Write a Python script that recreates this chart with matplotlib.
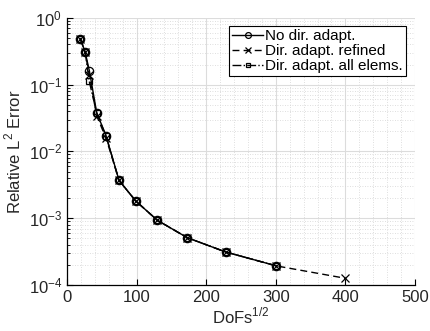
import matplotlib
matplotlib.use("Agg")
import matplotlib.pyplot as plt
from matplotlib.ticker import LogLocator, NullFormatter, FixedLocator

plt.rcParams['font.family'] = ['Liberation Sans', 'DejaVu Sans']
plt.rcParams['mathtext.fontset'] = 'custom'
plt.rcParams['mathtext.rm'] = 'Liberation Sans'

# sqrt(DoFs) and relative L2 errors for the three strategies
dofs_no = [19, 26, 32, 42.6, 56, 74.7, 98.7, 129.8, 172.9, 228, 301]
err_no = [0.49, 0.306, 0.162, 0.038, 0.0172, 0.00368, 0.00181, 0.00093, 0.00051, 0.000312, 0.000193]

dofs_ref = [19, 26, 32, 42.6, 56, 74.7, 98.7, 129.8, 172.9, 228, 301, 400]
err_ref = [0.49, 0.306, 0.14, 0.034, 0.0158, 0.00368, 0.00181, 0.00093, 0.00051, 0.000312, 0.000193, 0.000126]

dofs_all = [19, 26, 31.6, 42.6, 56, 74.7, 98.7, 129.8, 172.9, 228, 301]
err_all = [0.49, 0.306, 0.115, 0.0375, 0.017, 0.00368, 0.00181, 0.00093, 0.00051, 0.000312, 0.000193]

fig = plt.figure(figsize=(4.30, 3.31), dpi=100)
ax = fig.add_axes([0.156, 0.139, 0.809, 0.807])

ax.semilogy(dofs_ref, err_ref, color='black', linestyle='--', marker='x',
            markersize=6, markeredgewidth=0.9, linewidth=1.0, dashes=(5, 3),
            label='Dir. adapt. refined', zorder=3)
ax.semilogy(dofs_all, err_all, color='black', linestyle='-.', marker='s',
            markersize=5, markerfacecolor='none', markeredgewidth=0.9,
            linewidth=1.0, label='Dir. adapt. all elems.', zorder=4)
ax.semilogy(dofs_no, err_no, color='black', linestyle='-', marker='o',
            markersize=6, markerfacecolor='none', markeredgewidth=0.9,
            linewidth=1.0, label='No dir. adapt.', zorder=5)

ax.set_xlim(0, 500)
ax.set_ylim(1e-4, 1)
ax.xaxis.set_major_locator(FixedLocator([0, 100, 200, 300, 400, 500]))
ax.yaxis.set_major_locator(LogLocator(base=10, numticks=10))
ax.yaxis.set_minor_locator(LogLocator(base=10, subs=range(2, 10), numticks=20))
ax.yaxis.set_minor_formatter(NullFormatter())
ax.xaxis.set_minor_locator(FixedLocator(range(0, 501, 20)))

ax.grid(True, which='major', color='#dcdcdc', linewidth=0.8, linestyle='-')
ax.grid(True, which='minor', color='#d4d4d4', linewidth=0.6, linestyle=(0, (1, 2)))
ax.set_axisbelow(True)

for s in ['top', 'right']:
    ax.spines[s].set_visible(False)
for s in ['left', 'bottom']:
    ax.spines[s].set_linewidth(0.9)

ax.tick_params(axis='both', which='major', direction='in', length=4, width=0.8,
               labelsize=12, colors='black')
ax.tick_params(axis='y', which='minor', direction='in', length=2, width=0.6)
ax.tick_params(axis='x', which='minor', length=0)
for lab in ax.get_xticklabels() + ax.get_yticklabels():
    lab.set_color('#262626')

ax.set_xlabel('DoFs$^{1/2}$', fontsize=12, color='#262626', labelpad=1)
ax.set_ylabel('Relative L$^{2}$ Error', fontsize=12, color='#262626', labelpad=4)

handles, labels = ax.get_legend_handles_labels()
order = [2, 0, 1]
leg = ax.legend([handles[i] for i in order], [labels[i] for i in order],
                loc='upper right', bbox_to_anchor=(0.974, 0.968), fontsize=11,
                frameon=True, fancybox=False, edgecolor='black', framealpha=1,
                handlelength=2.0, handletextpad=0.15, borderpad=0.2,
                labelspacing=0.05, borderaxespad=0, markerscale=0.7)
leg.get_frame().set_linewidth(0.8)

fig.savefig('out.png', dpi=100, facecolor='white')
